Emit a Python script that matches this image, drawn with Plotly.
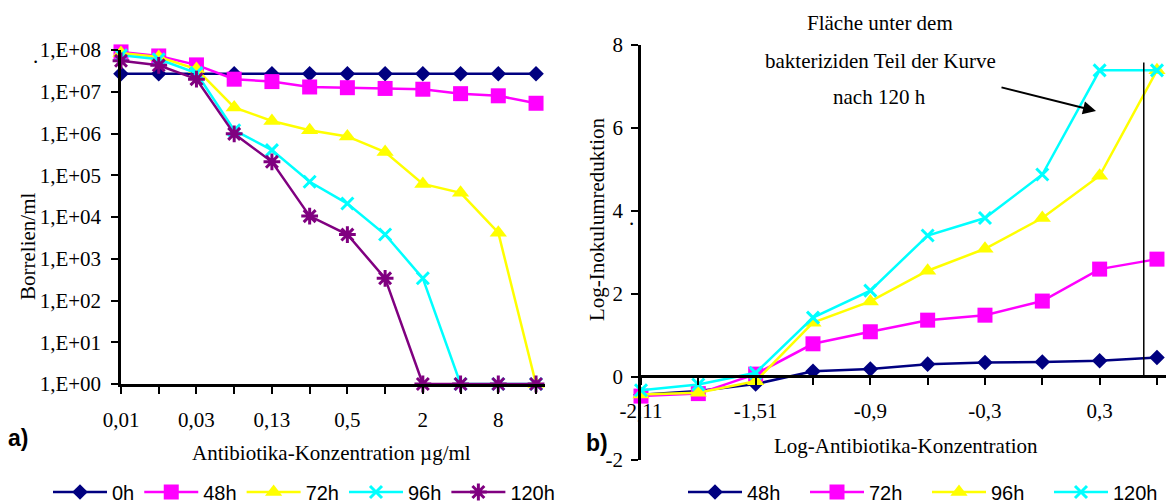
import plotly.graph_objects as go

# ---------------- data ----------------
# Left chart (a): Borrelien/ml vs antibiotic concentration (12 categories)
conc_labels = ["0,01", "", "0,03", "", "0,13", "", "0,5", "", "2", "", "8", ""]
series_a_names = ["0h", "48h", "72h", "96h", "120h"]
a_0h = [2.7e7, 2.7e7, 2.7e7, 2.7e7, 2.7e7, 2.7e7, 2.7e7, 2.7e7, 2.7e7, 2.7e7, 2.7e7, 2.7e7]
a_48h = [9.0e7, 7.2e7, 4.4e7, 2.0e7, 1.75e7, 1.3e7, 1.25e7, 1.2e7, 1.15e7, 9.0e6, 8.0e6, 5.3e6]
a_72h = [8.5e7, 6.8e7, 3.5e7, 4.2e6, 2.0e6, 1.2e6, 8.5e5, 3.6e5, 6.2e4, 3.8e4, 4.2e3, 1.0]
a_96h = [7.5e7, 6.0e7, 2.8e7, 1.2e6, 4.0e5, 7.0e4, 2.1e4, 3.8e3, 3.4e2, 1.0, 1.0, 1.0]
a_120h = [5.5e7, 4.3e7, 2.0e7, 9.8e5, 2.1e5, 1.05e4, 3.8e3, 3.4e2, 1.0, 1.0, 1.0, 1.0]
a_yticks = [1, 1e1, 1e2, 1e3, 1e4, 1e5, 1e6, 1e7, 1e8]
a_yticklabels = ["1,E+00", "1,E+01", "1,E+02", "1,E+03", "1,E+04",
                 "1,E+05", "1,E+06", "1,E+07", "1,E+08"]

# Right chart (b): log inoculum reduction vs log concentration (10 categories)
logconc_labels = ["-2,11", "", "-1,51", "", "-0,9", "", "-0,3", "", "0,3", ""]
series_b_names = ["48h", "72h", "96h", "120h"]
b_48h = [-0.43, -0.34, -0.17, 0.14, 0.19, 0.31, 0.35, 0.36, 0.39, 0.47]
b_72h = [-0.46, -0.40, 0.07, 0.80, 1.09, 1.37, 1.49, 1.83, 2.60, 2.84]
b_96h = [-0.42, -0.38, -0.10, 1.31, 1.82, 2.56, 3.09, 3.83, 4.85, 7.39]
b_120h = [-0.32, -0.18, 0.10, 1.43, 2.08, 3.41, 3.83, 4.88, 7.39, 7.39]
b_yticks = [-2, 0, 2, 4, 6, 8]
b_yticklabels = ["-2", "0", "2", "4", "6", "8"]

# integration limit line in chart b (category position, top value)
limit_x = 8.77
limit_top = 7.58

# ---------------- styles ----------------
colors = {"navy": "#000080", "magenta": "#FF00FF", "yellow": "#FFFF00",
          "cyan": "#00FFFF", "purple": "#800080"}
serif = "Liberation Serif"
sans = "Liberation Sans"
W, H = 1166, 504

def px_x(p):
    return p / W

def px_y(p):
    return 1 - p / H

marker_styles = {
    "diamond": dict(symbol="diamond", size=12),
    "square": dict(symbol="square", size=15),
    "triangle": dict(symbol="triangle-up", size=15),
    "x": dict(symbol="x-thin-open", size=12),
    "asterisk": dict(symbol="asterisk-open", size=14),
}

def make_trace(x, y, name, color, mkey, xa, ya, legend):
    m = dict(marker_styles[mkey])
    m["color"] = color
    if mkey in ("x", "asterisk"):
        m["line"] = dict(color=color, width=3)
    else:
        m["line"] = dict(width=0)
    return go.Scatter(x=x, y=y, name=name, mode="lines+markers",
                      line=dict(color=color, width=2.5), marker=m,
                      xaxis=xa, yaxis=ya, legend=legend, cliponaxis=False)

fig = go.Figure()
xa = list(range(len(conc_labels)))
a_data = [a_0h, a_48h, a_72h, a_96h, a_120h]
a_cols = ["navy", "magenta", "yellow", "cyan", "purple"]
a_marks = ["diamond", "square", "triangle", "x", "asterisk"]
for nm, d, c, mk in zip(series_a_names, a_data, a_cols, a_marks):
    fig.add_trace(make_trace(xa, d, nm, colors[c], mk, "x", "y", "legend"))

xb = list(range(len(logconc_labels)))
b_data = [b_48h, b_72h, b_96h, b_120h]
b_cols = ["navy", "magenta", "yellow", "cyan"]
b_marks = ["diamond", "square", "triangle", "x"]
for nm, d, c, mk in zip(series_b_names, b_data, b_cols, b_marks):
    fig.add_trace(make_trace(xb, d, nm, colors[c], mk, "x2", "y2", "legend2"))

axis_common = dict(showline=True, linecolor="black", linewidth=2.5,
                   ticks="outside", ticklen=7, tickwidth=2, tickcolor="black",
                   showgrid=False, zeroline=False, automargin=False,
                   tickfont=dict(family=serif, size=21, color="black"))

legend_font = dict(family=sans, size=20, color="black")

fig.update_layout(
    width=W, height=H, autosize=False,
    margin=dict(l=0, r=0, t=0, b=0, pad=0, autoexpand=False),
    paper_bgcolor="white", plot_bgcolor="rgba(0,0,0,0)",
    showlegend=True,
    xaxis=dict(axis_common, domain=[px_x(121), px_x(545)],
               range=[0, (545 - 121) / 37.73], tickmode="array",
               tickvals=xa, ticktext=conc_labels, anchor="y",
               ticklabelstandoff=8),
    yaxis=dict(axis_common, type="log", domain=[px_y(384), px_y(50)],
               range=[0, 8], tickmode="array", tickvals=a_yticks,
               ticktext=a_yticklabels, anchor="x", ticklabelstandoff=6),
    xaxis2=dict(axis_common, domain=[px_x(641), 1.0],
                range=[0, (1166 - 641) / 57.33], tickmode="array",
                tickvals=xb, ticktext=logconc_labels, anchor="free",
                position=px_y(376), ticklabelstandoff=8),
    yaxis2=dict(axis_common, domain=[px_y(460), px_y(45)], range=[-2, 8],
                tickmode="array", tickvals=b_yticks, ticktext=b_yticklabels,
                anchor="x2", ticklabelstandoff=4),
    legend=dict(orientation="h", x=px_x(48), y=px_y(492), xanchor="left",
                yanchor="middle", font=legend_font,
                bgcolor="rgba(0,0,0,0)", itemwidth=54, traceorder="normal"),
    legend2=dict(orientation="h", x=px_x(683), y=px_y(492), xanchor="left",
                 yanchor="middle", font=legend_font, entrywidth=53,
                 entrywidthmode="pixels",
                 bgcolor="rgba(0,0,0,0)", itemwidth=54, traceorder="normal"),
)

ann_font = dict(family=serif, size=21, color="black")
annotations = [
    dict(text="Antibiotika-Konzentration µg/ml", x=px_x(331), y=px_y(453)),
    dict(text="Borrelien/ml", x=px_x(28), y=px_y(247), textangle=-90),
    dict(text="Log-Antibiotika-Konzentration", x=px_x(906), y=px_y(446)),
    dict(text="Log-Inokulumreduktion", x=px_x(597), y=px_y(220), textangle=-90),
    dict(text="Fläche unter dem", x=px_x(880), y=px_y(23)),
    dict(text="bakteriziden Teil der Kurve", x=px_x(880), y=px_y(61)),
    dict(text="nach 120 h", x=px_x(879), y=px_y(97)),
    dict(text=".", x=px_x(35), y=px_y(56)),
    dict(text=".", x=px_x(631), y=px_y(218)),
]
for a in annotations:
    fig.add_annotation(xref="paper", yref="paper", showarrow=False,
                       xanchor="center", yanchor="middle", font=ann_font, **a)

fig.add_annotation(xref="paper", yref="paper", showarrow=False, text="<b>a)</b>",
                   x=px_x(18), y=px_y(438), xanchor="center", yanchor="middle",
                   font=dict(family=sans, size=23, color="black"))
fig.add_annotation(xref="paper", yref="paper", showarrow=False, text="<b>b)</b>",
                   x=px_x(597), y=px_y(443), xanchor="center", yanchor="middle",
                   font=dict(family=sans, size=23, color="black"))

# arrow pointing at the area
fig.add_annotation(xref="paper", yref="paper", x=px_x(1096), y=px_y(111),
                   ax=-96, ay=-24, axref="pixel", ayref="pixel", text="",
                   showarrow=True, arrowhead=2, arrowsize=1.3, arrowwidth=2,
                   arrowcolor="black")

fig.add_shape(type="line", xref="x2", yref="y2", x0=limit_x, x1=limit_x,
              y0=0, y1=limit_top, line=dict(color="black", width=1.5))

fig.write_html("out.html")
